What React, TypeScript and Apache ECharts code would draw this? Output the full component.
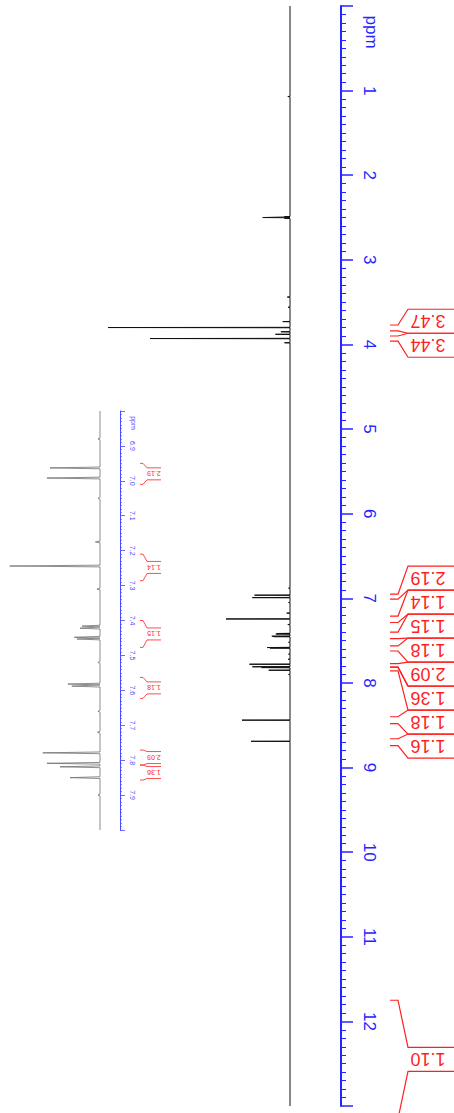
import React, { useEffect, useRef } from 'react';
import * as echarts from 'echarts';

// ---- data ----
// peak positions (ppm) and relative intensities (tallest = 100)
const peakPpm = [1.07, 2.49, 2.5, 2.51, 3.44, 3.56, 3.73, 3.8, 3.85, 3.88, 3.93, 3.98,
  6.88, 6.963, 6.992, 7.05, 7.175, 7.244, 7.31, 7.416, 7.422, 7.448, 7.453, 7.52,
  7.582, 7.588, 7.66, 7.72, 7.779, 7.809, 7.819, 7.85, 7.9, 8.44, 8.69];
const peakHeight = [1.2, 3, 15, 3, 1.5, 1, 4, 100, 5, 8, 77, 3,
  0.8, 19.5, 20.7, 0.8, 1.8, 35.2, 1.2, 7.0, 7.8, 10.0, 9.0, 0.8,
  12.5, 11, 0.8, 1.0, 22.3, 20.7, 15.6, 11.7, 0.8, 26.4, 21.4];

// integral regions (ppm) and their values
const integralFrom = [3.77, 3.9, 6.95, 7.21, 7.4, 7.563, 7.771, 7.814, 8.4, 8.66, 11.75];
const integralTo = [3.84, 3.96, 7.01, 7.286, 7.477, 7.623, 7.814, 7.857, 8.48, 8.74, 13.15];
const integralValue = ['3.47', '3.44', '2.19', '1.14', '1.15', '1.18', '2.09', '1.36', '1.18', '1.16', '1.10'];

// axis ranges
const mainPpmRange = [0, 13];
const insetPpmRange = [6.8, 8.0];

const AXIS_BLUE = '#2525ff';
const INSET_BLUE = '#4a4aff';
const RED = '#ff1f1f';
const FONT = '"Liberation Sans", Arial, sans-serif';
const HALF = 0.0025;

function buildSpectrum(lo: number, hi: number) {
  const pts: number[][] = [[0, lo], [0, hi]];
  peakPpm.forEach((p, i) => {
    if (p > lo && p < hi) {
      pts.push([0, p - HALF], [peakHeight[i], p], [0, p + HALF]);
    }
  });
  pts.sort((a, b) => a[1] - b[1]);
  return pts;
}

function layoutLabels(centers: number[], h: number): number[] {
  const order = centers.map((_, i) => i).sort((a, b) => centers[a] - centers[b]);
  let clusters = order.map((i) => ({ idx: [i], c: centers[i] }));
  let merged = true;
  while (merged) {
    merged = false;
    for (let k = 0; k < clusters.length - 1; k++) {
      const A = clusters[k];
      const B = clusters[k + 1];
      if (A.c + (A.idx.length * h) / 2 > B.c - (B.idx.length * h) / 2) {
        const idx = [...A.idx, ...B.idx];
        const c = idx.reduce((s, i) => s + centers[i], 0) / idx.length;
        clusters.splice(k, 2, { idx, c });
        merged = true;
        break;
      }
    }
  }
  const out: number[] = new Array(centers.length);
  clusters.forEach((cl) =>
    cl.idx.forEach((i, j) => {
      out[i] = cl.c + (j - (cl.idx.length - 1) / 2) * h;
    })
  );
  return out;
}

type Cfg = { t0: number; t1: number; bx: number; end: number; tx: number; box: number; font: number; lw: number };

function integralSeries(axisIdx: number, lo: number, hi: number, cfg: Cfg) {
  const idx = integralFrom.map((_, i) => i).filter((i) => integralFrom[i] >= lo && integralTo[i] <= hi);
  return {
    type: 'custom',
    xAxisIndex: axisIdx,
    yAxisIndex: axisIdx,
    clip: false,
    silent: true,
    data: idx.map((i) => [0, (integralFrom[i] + integralTo[i]) / 2]),
    renderItem: (params: any, api: any) => {
      const ys = idx.map((i) => [api.coord([0, integralFrom[i]])[1], api.coord([0, integralTo[i]])[1]]);
      const pos = layoutLabels(ys.map(([a, b]) => (a + b) / 2), cfg.box);
      const k = params.dataIndex;
      const base = api.coord([0, integralFrom[idx[k]]])[0];
      const [y1, y2] = ys[k];
      const yc = pos[k];
      const bt = yc - cfg.box / 2;
      const bb = yc + cfg.box / 2;
      const ls = { stroke: RED, fill: null, lineWidth: cfg.lw };
      return {
        type: 'group',
        children: [
          {
            type: 'polyline',
            shape: { points: [[base + cfg.t0, y1], [base + cfg.t1, y1], [base + cfg.bx, bt], [base + cfg.end, bt]] },
            style: ls,
          },
          {
            type: 'polyline',
            shape: { points: [[base + cfg.t0, y2], [base + cfg.t1, y2], [base + cfg.bx, bb], [base + cfg.end, bb]] },
            style: ls,
          },
          {
            type: 'text',
            x: base + cfg.tx,
            y: yc,
            rotation: Math.PI,
            style: {
              text: integralValue[idx[k]],
              fill: RED,
              fontSize: cfg.font,
              fontFamily: FONT,
              align: 'center',
              verticalAlign: 'middle',
            },
          },
        ],
      };
    },
  };
}

export default function App() {
  const ref = useRef<HTMLDivElement>(null);
  useEffect(() => {
    if (!ref.current) return;
    const chart = echarts.init(ref.current, undefined, { renderer: 'svg' });
    chart.setOption({
      animation: false,
      backgroundColor: '#ffffff',
      grid: [
        { left: 10, right: 164, top: 6, bottom: 7 },
        { left: 0, right: 354, top: 411, bottom: 283 },
      ],
      xAxis: [
        { type: 'value', gridIndex: 0, inverse: true, min: 0, max: 154, show: false },
        { type: 'value', gridIndex: 1, inverse: true, min: 0, max: 39, show: false },
      ],
      yAxis: [
        {
          type: 'value',
          gridIndex: 0,
          inverse: true,
          min: mainPpmRange[0],
          max: mainPpmRange[1],
          interval: 1,
          position: 'right',
          offset: 51,
          axisLine: { show: true, onZero: false, lineStyle: { color: AXIS_BLUE, width: 2 } },
          axisTick: { show: true, length: 12, lineStyle: { color: AXIS_BLUE, width: 1.5 } },
          minorTick: { show: true, splitNumber: 10, length: 5, lineStyle: { color: AXIS_BLUE, width: 1 } },
          splitLine: { show: false },
          axisLabel: {
            rotate: -90,
            margin: 20,
            color: AXIS_BLUE,
            fontSize: 17,
            fontFamily: FONT,
            formatter: (v: number) => (v === mainPpmRange[0] || v === mainPpmRange[1] ? '' : String(v)),
          },
        },
        {
          type: 'value',
          gridIndex: 1,
          inverse: true,
          min: insetPpmRange[0],
          max: insetPpmRange[1],
          interval: 0.1,
          position: 'right',
          offset: 20,
          axisLine: { show: true, onZero: false, lineStyle: { color: INSET_BLUE, width: 1 } },
          axisTick: { show: true, length: 5, lineStyle: { color: INSET_BLUE, width: 0.8 } },
          minorTick: { show: true, splitNumber: 10, length: 2, lineStyle: { color: INSET_BLUE, width: 0.6 } },
          splitLine: { show: false },
          axisLabel: {
            rotate: -90,
            margin: 9,
            color: INSET_BLUE,
            fontSize: 7,
            fontFamily: FONT,
            formatter: (v: number) =>
              Math.abs(v - insetPpmRange[0]) < 1e-6 || Math.abs(v - insetPpmRange[1]) < 1e-6 ? '' : v.toFixed(1),
          },
        },
      ],
      graphic: [
        {
          type: 'text',
          x: 371,
          y: 32,
          rotation: -Math.PI / 2,
          style: { text: 'ppm', fill: AXIS_BLUE, fontSize: 17, fontFamily: FONT, align: 'center', verticalAlign: 'middle' },
        },
        {
          type: 'text',
          x: 133,
          y: 423,
          rotation: -Math.PI / 2,
          style: { text: 'ppm', fill: INSET_BLUE, fontSize: 7, fontFamily: FONT, align: 'center', verticalAlign: 'middle' },
        },
      ],
      series: [
        {
          type: 'line',
          xAxisIndex: 0,
          yAxisIndex: 0,
          data: buildSpectrum(mainPpmRange[0], mainPpmRange[1]),
          showSymbol: false,
          symbol: 'none',
          clip: false,
          silent: true,
          lineStyle: { color: '#111111', width: 1 },
        },
        {
          type: 'line',
          xAxisIndex: 1,
          yAxisIndex: 1,
          data: buildSpectrum(insetPpmRange[0], insetPpmRange[1]),
          showSymbol: false,
          symbol: 'none',
          clip: false,
          silent: true,
          lineStyle: { color: '#707070', width: 0.8 },
        },
        integralSeries(0, 0, 14, { t0: 100, t1: 108, bx: 118, end: 170, tx: 138, box: 24, font: 18, lw: 1.2 }),
        integralSeries(1, insetPpmRange[0], insetPpmRange[1], { t0: 40, t1: 43, bx: 47, end: 61, tx: 54, box: 12, font: 7, lw: 0.8 }),
      ],
    });
    return () => chart.dispose();
  }, []);
  return <div ref={ref} style={{ position: 'absolute', left: 0, top: 0, width: 454, height: 1113 }} />;
}
